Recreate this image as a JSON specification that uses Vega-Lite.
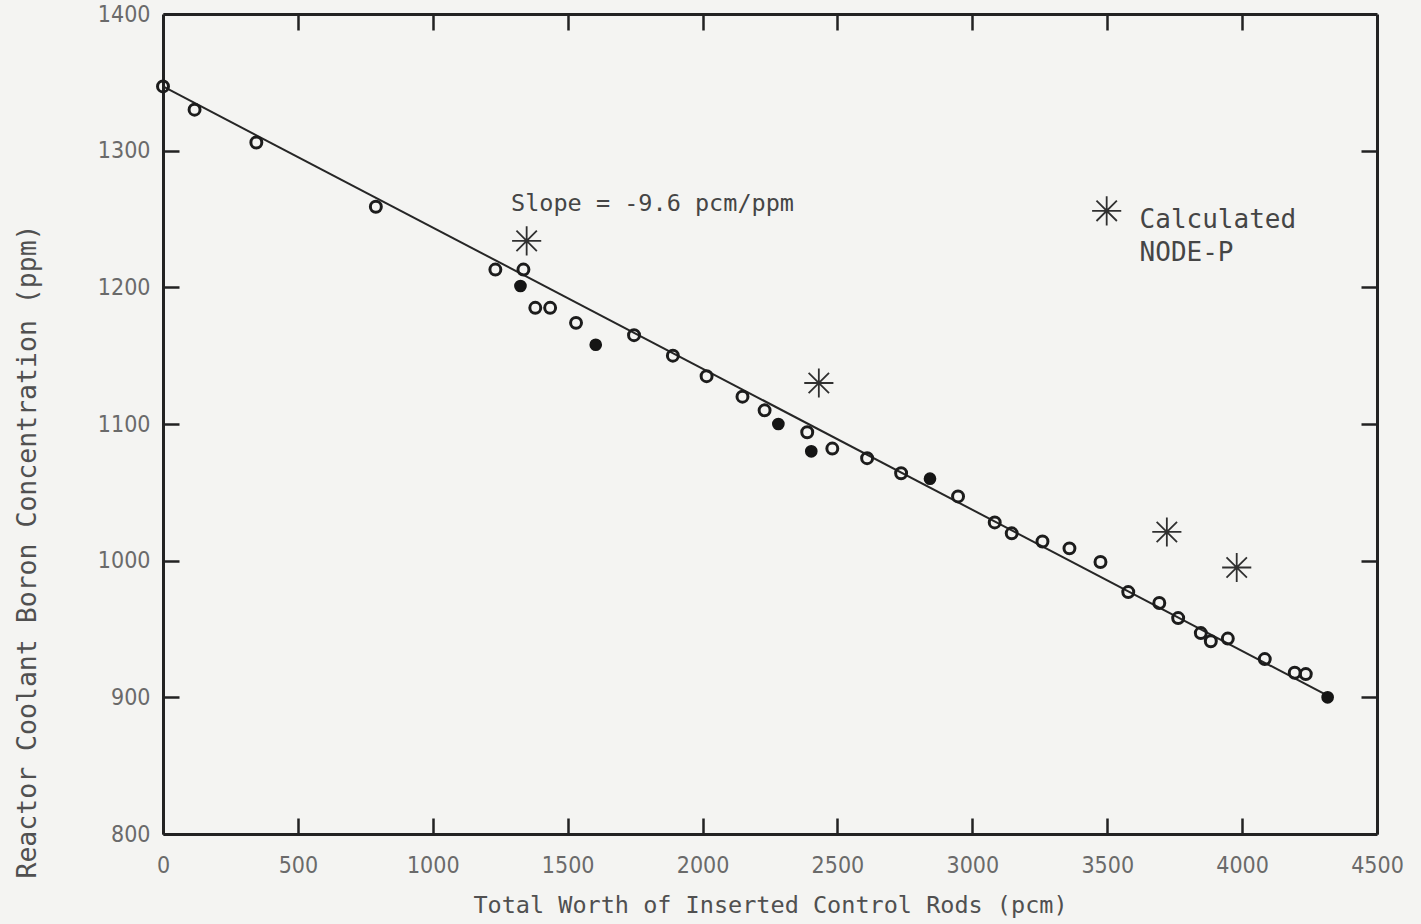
{
  "$schema": "https://vega.github.io/schema/vega-lite/v6.json",
  "width": 1214,
  "height": 820,
  "autosize": {"type": "none"},
  "padding": {"left": 163, "top": 14, "right": 44, "bottom": 90},
  "background": "#f4f4f2",
  "config": {
    "view": {"stroke": null},
    "axis": {
      "domainColor": "#222222",
      "domainWidth": 3,
      "tickColor": "#222222",
      "tickWidth": 2.5,
      "tickSize": -16,
      "grid": false,
      "labelFont": "DejaVu Sans Condensed",
      "labelFontSize": 23,
      "labelColor": "#6a6a6a",
      "labelFontWeight": "normal",
      "format": "d",
      "titleFont": "DejaVu Sans Mono",
      "titleColor": "#505050",
      "titleFontWeight": "normal"
    }
  },
  "datasets": {
    "fit": [
      {"worth": 0, "boron": 1347},
      {"worth": 4335, "boron": 899.4}
    ],
    "open": [
      {"worth": 0, "boron": 1347},
      {"worth": 117, "boron": 1330},
      {"worth": 346, "boron": 1306},
      {"worth": 789, "boron": 1259},
      {"worth": 1232, "boron": 1213},
      {"worth": 1336, "boron": 1213},
      {"worth": 1380, "boron": 1185},
      {"worth": 1435, "boron": 1185},
      {"worth": 1531, "boron": 1174},
      {"worth": 1746, "boron": 1165},
      {"worth": 1890, "boron": 1150},
      {"worth": 2015, "boron": 1135},
      {"worth": 2148, "boron": 1120},
      {"worth": 2230, "boron": 1110},
      {"worth": 2388, "boron": 1094},
      {"worth": 2481, "boron": 1082},
      {"worth": 2610, "boron": 1075},
      {"worth": 2736, "boron": 1064},
      {"worth": 2947, "boron": 1047},
      {"worth": 3083, "boron": 1028},
      {"worth": 3146, "boron": 1020},
      {"worth": 3260, "boron": 1014},
      {"worth": 3360, "boron": 1009},
      {"worth": 3475, "boron": 999},
      {"worth": 3578, "boron": 977},
      {"worth": 3693, "boron": 969},
      {"worth": 3763, "boron": 958},
      {"worth": 3847, "boron": 947},
      {"worth": 3884, "boron": 941},
      {"worth": 3947, "boron": 943},
      {"worth": 4084, "boron": 928},
      {"worth": 4195, "boron": 918},
      {"worth": 4236, "boron": 917}
    ],
    "filled": [
      {"worth": 1325, "boron": 1201},
      {"worth": 1604, "boron": 1158},
      {"worth": 2281, "boron": 1100},
      {"worth": 2403, "boron": 1080},
      {"worth": 2843, "boron": 1060},
      {"worth": 4317, "boron": 900}
    ],
    "calc": [
      {"worth": 1348, "boron": 1234},
      {"worth": 2431, "boron": 1130},
      {"worth": 3721, "boron": 1021},
      {"worth": 3980, "boron": 995},
      {"worth": 3498, "boron": 1256}
    ],
    "notes": [
      {"worth": 1290, "boron": 1261, "label": "Slope = -9.6 pcm/ppm", "size": 23.5},
      {"worth": 3620, "boron": 1249, "label": "Calculated", "size": 26},
      {"worth": 3620, "boron": 1225, "label": "NODE-P", "size": 26}
    ]
  },
  "resolve": {"axis": {"x": "independent", "y": "independent"}},
  "layer": [
    {
      "data": {"name": "fit"},
      "mark": {"type": "line", "color": "#262626", "strokeWidth": 2},
      "encoding": {
        "x": {"field": "worth", "type": "quantitative",
              "scale": {"domain": [0, 4500], "nice": false, "zero": false},
              "axis": {"orient": "top", "labels": false, "title": null,
                       "values": [500, 1000, 1500, 2000, 2500, 3000, 3500, 4000]}},
        "y": {"field": "boron", "type": "quantitative",
              "scale": {"domain": [800, 1400], "nice": false, "zero": false},
              "axis": {"orient": "right", "labels": false, "title": null,
                       "values": [900, 1000, 1100, 1200, 1300]}}
      }
    },
    {
      "data": {"name": "open"},
      "mark": {"type": "point", "shape": "circle", "filled": false, "stroke": "#1c1c1c", "strokeWidth": 3, "size": 120, "opacity": 1},
      "encoding": {
        "x": {"field": "worth", "type": "quantitative",
              "axis": {"orient": "bottom",
                       "values": [0, 500, 1000, 1500, 2000, 2500, 3000, 3500, 4000, 4500],
                       "labelPadding": 36,
                       "labelFlush": false,
                       "title": "Total Worth of Inserted Control Rods (pcm)",
                       "titleFontSize": 23.5,
                       "titleY": 71,
                       "titleBaseline": "middle"}},
        "y": {"field": "boron", "type": "quantitative",
              "axis": {"orient": "left",
                       "values": [800, 900, 1000, 1100, 1200, 1300, 1400],
                       "labelPadding": 29,
                       "labelFlush": false,
                       "title": "Reactor Coolant Boron Concentration (ppm)",
                       "titleFontSize": 26.5,
                       "titleX": -136,
                       "titleY": 537,
                       "titleAngle": -90,
                       "titleAlign": "center",
                       "titleBaseline": "middle"}}
      }
    },
    {
      "data": {"name": "filled"},
      "mark": {"type": "point", "shape": "circle", "filled": true, "fill": "#151515", "stroke": "#151515", "strokeWidth": 1.5, "size": 125, "opacity": 1},
      "encoding": {
        "x": {"field": "worth", "type": "quantitative", "axis": null},
        "y": {"field": "boron", "type": "quantitative", "axis": null}
      }
    },
    {
      "data": {"name": "calc"},
      "mark": {"type": "point", "shape": "M-1,0L1,0M0,-1L0,1M-0.7,-0.7L0.7,0.7M-0.7,0.7L0.7,-0.7", "filled": false, "stroke": "#303030", "strokeWidth": 1.8, "size": 850, "opacity": 1},
      "encoding": {
        "x": {"field": "worth", "type": "quantitative", "axis": null},
        "y": {"field": "boron", "type": "quantitative", "axis": null}
      }
    },
    {
      "data": {"name": "notes"},
      "mark": {"type": "text", "font": "DejaVu Sans Mono", "color": "#454545", "align": "left", "baseline": "middle"},
      "encoding": {
        "x": {"field": "worth", "type": "quantitative", "axis": null},
        "y": {"field": "boron", "type": "quantitative", "axis": null},
        "text": {"field": "label"},
        "size": {"field": "size", "type": "quantitative", "scale": null}
      }
    }
  ]
}
